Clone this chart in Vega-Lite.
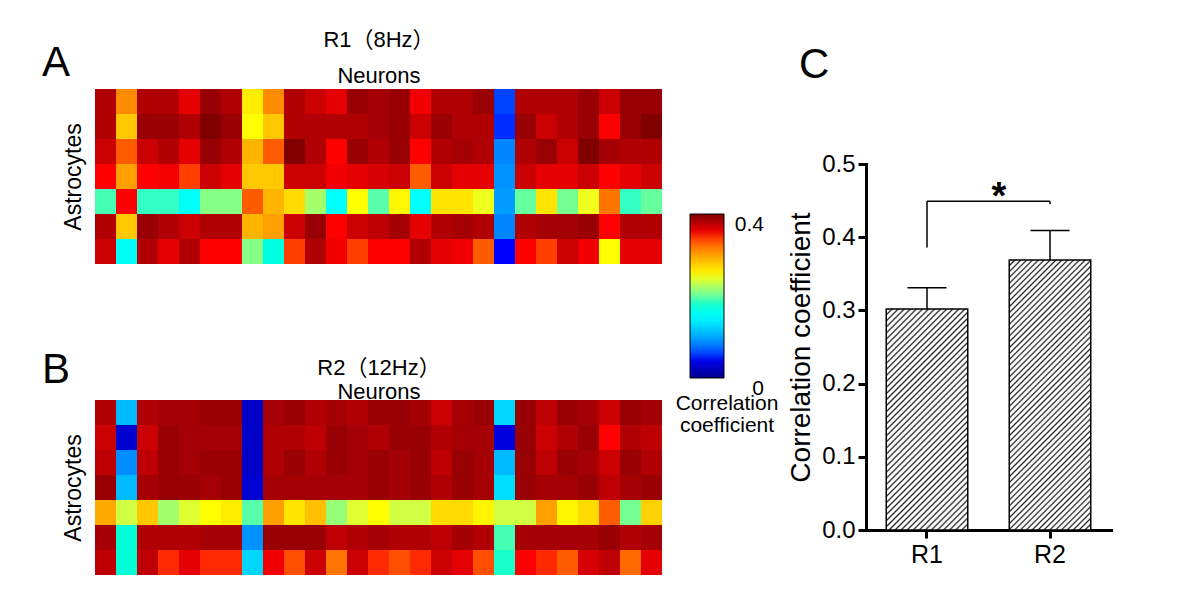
{
  "$schema": "https://vega.github.io/schema/vega-lite/v6.json",
  "background": "white",
  "padding": {"left": 42, "top": 28, "right": 5, "bottom": 5},
  "config": {
    "font": "Liberation Sans, Arial, Noto Sans CJK SC, sans-serif",
    "view": {"stroke": null},
    "axis": {"labelColor": "#000", "titleColor": "#000", "domainColor": "#000", "tickColor": "#000", "grid": false, "titleFontWeight": "normal"},
    "title": {"color": "#000", "fontWeight": "normal"},
    "legend": {"labelColor": "#000", "titleColor": "#000"}
  },
  "spacing": 8,
  "hconcat": [
    {
      "vconcat": [
        {
          "width": 567,
          "height": 175,
          "title": {"text": "A", "anchor": "start", "frame": "group", "align": "left", "baseline": "alphabetic", "fontSize": 42, "offset": 0, "dx": -53, "dy": 90},
          "data": {"values": [
            {"r": 0, "c": [0,1,2,3,4,5,6,7,8,9,10,11,12,13,14,15,16,17,18,19,20,21,22,23,24,25,26], "v": [0.38,0.31,0.38,0.38,0.36,0.39,0.38,0.26,0.31,0.38,0.37,0.36,0.39,0.385,0.39,0.355,0.38,0.38,0.39,0.06,0.38,0.38,0.38,0.39,0.37,0.39,0.39]},
            {"r": 1, "c": [0,1,2,3,4,5,6,7,8,9,10,11,12,13,14,15,16,17,18,19,20,21,22,23,24,25,26], "v": [0.38,0.28,0.39,0.39,0.38,0.4,0.39,0.25,0.28,0.38,0.38,0.38,0.38,0.385,0.39,0.37,0.39,0.38,0.38,0.055,0.39,0.37,0.38,0.39,0.35,0.39,0.4]},
            {"r": 2, "c": [0,1,2,3,4,5,6,7,8,9,10,11,12,13,14,15,16,17,18,19,20,21,22,23,24,25,26], "v": [0.37,0.33,0.37,0.38,0.36,0.39,0.38,0.29,0.33,0.4,0.38,0.35,0.39,0.38,0.39,0.35,0.38,0.385,0.38,0.085,0.38,0.39,0.37,0.4,0.385,0.38,0.38]},
            {"r": 3, "c": [0,1,2,3,4,5,6,7,8,9,10,11,12,13,14,15,16,17,18,19,20,21,22,23,24,25,26], "v": [0.35,0.3,0.35,0.355,0.34,0.37,0.36,0.28,0.28,0.37,0.37,0.355,0.36,0.365,0.37,0.33,0.37,0.36,0.36,0.09,0.37,0.36,0.36,0.37,0.35,0.36,0.37]},
            {"r": 4, "c": [0,1,2,3,4,5,6,7,8,9,10,11,12,13,14,15,16,17,18,19,20,21,22,23,24,25,26], "v": [0.19,0.35,0.185,0.185,0.155,0.21,0.21,0.33,0.29,0.27,0.22,0.15,0.25,0.195,0.255,0.15,0.265,0.265,0.245,0.095,0.2,0.265,0.205,0.245,0.32,0.185,0.2]},
            {"r": 5, "c": [0,1,2,3,4,5,6,7,8,9,10,11,12,13,14,15,16,17,18,19,20,21,22,23,24,25,26], "v": [0.38,0.28,0.39,0.38,0.37,0.38,0.38,0.29,0.3,0.37,0.39,0.35,0.37,0.375,0.385,0.36,0.38,0.385,0.38,0.085,0.38,0.385,0.385,0.39,0.35,0.38,0.38]},
            {"r": 6, "c": [0,1,2,3,4,5,6,7,8,9,10,11,12,13,14,15,16,17,18,19,20,21,22,23,24,25,26], "v": [0.37,0.155,0.38,0.36,0.38,0.35,0.35,0.21,0.17,0.34,0.38,0.355,0.34,0.35,0.35,0.38,0.36,0.355,0.33,0.05,0.35,0.34,0.37,0.355,0.25,0.36,0.36]}
          ]},
          "transform": [{"flatten": ["c", "v"]}],
          "mark": {"type": "rect"},
          "encoding": {
            "x": {"field": "c", "type": "ordinal", "scale": {"paddingInner": 0, "paddingOuter": 0},
                  "axis": {"orient": "top", "labels": false, "ticks": false, "domain": false, "title": ["R1（8Hz）", "Neurons"], "titleFontSize": 22, "titleLineHeight": 36, "titlePadding": 2}},
            "y": {"field": "r", "type": "ordinal", "scale": {"paddingInner": 0, "paddingOuter": 0},
                  "axis": {"labels": false, "ticks": false, "domain": false, "title": "Astrocytes", "titleFontSize": 23, "titlePadding": 10}},
            "color": {"field": "v", "type": "quantitative",
                      "scale": {"domain": [0, 0.05, 0.15, 0.25, 0.35, 0.4], "range": ["#00008f", "#0000ff", "#00ffff", "#ffff00", "#ff0000", "#800000"]},
                      "legend": {"orient": "none", "legendX": 581, "legendY": 125, "direction": "vertical", "gradientLength": 164, "gradientThickness": 34,
                                 "gradientStrokeColor": "#000", "gradientStrokeWidth": 1, "values": [0, 0.4], "format": "~g",
                                 "labelFontSize": 21, "labelOffset": 11, "labelBaseline": "top",
                                 "encode": {"labels": {"update": {"baseline": {"value": "top"}, "align": {"value": "right"}, "dx": {"value": 29}}}},
                                 "title": ["Correlation", "coefficient"], "titleOrient": "bottom", "titleFontSize": 21, "titleFontWeight": "normal",
                                 "titleLineHeight": 22, "titleAnchor": "middle", "titleAlign": "center", "titlePadding": -6}}
          }
        },
        {
          "width": 567,
          "height": 175,
          "title": {"text": "B", "anchor": "start", "frame": "group", "align": "left", "baseline": "alphabetic", "fontSize": 42, "offset": 0, "dx": -53, "dy": 69},
          "data": {"values": [
            {"r": 0, "c": [0,1,2,3,4,5,6,7,8,9,10,11,12,13,14,15,16,17,18,19,20,21,22,23,24,25,26], "v": [0.38,0.11,0.38,0.385,0.385,0.39,0.39,0.025,0.385,0.39,0.38,0.385,0.38,0.39,0.39,0.385,0.37,0.385,0.39,0.125,0.39,0.375,0.39,0.385,0.37,0.39,0.385]},
            {"r": 1, "c": [0,1,2,3,4,5,6,7,8,9,10,11,12,13,14,15,16,17,18,19,20,21,22,23,24,25,26], "v": [0.37,0.03,0.37,0.39,0.385,0.385,0.385,0.025,0.38,0.38,0.375,0.39,0.385,0.38,0.39,0.39,0.38,0.385,0.385,0.035,0.39,0.37,0.38,0.39,0.35,0.38,0.375]},
            {"r": 2, "c": [0,1,2,3,4,5,6,7,8,9,10,11,12,13,14,15,16,17,18,19,20,21,22,23,24,25,26], "v": [0.375,0.088,0.375,0.39,0.385,0.39,0.39,0.025,0.38,0.39,0.38,0.39,0.385,0.39,0.385,0.39,0.375,0.39,0.385,0.11,0.39,0.375,0.39,0.385,0.37,0.39,0.38]},
            {"r": 3, "c": [0,1,2,3,4,5,6,7,8,9,10,11,12,13,14,15,16,17,18,19,20,21,22,23,24,25,26], "v": [0.39,0.11,0.385,0.39,0.39,0.385,0.39,0.03,0.385,0.385,0.385,0.385,0.385,0.39,0.385,0.39,0.38,0.39,0.385,0.13,0.39,0.385,0.385,0.39,0.375,0.385,0.39]},
            {"r": 4, "c": [0,1,2,3,4,5,6,7,8,9,10,11,12,13,14,15,16,17,18,19,20,21,22,23,24,25,26], "v": [0.295,0.235,0.28,0.22,0.24,0.25,0.26,0.195,0.3,0.265,0.285,0.215,0.24,0.25,0.235,0.235,0.27,0.27,0.255,0.235,0.235,0.3,0.255,0.27,0.33,0.205,0.275]},
            {"r": 5, "c": [0,1,2,3,4,5,6,7,8,9,10,11,12,13,14,15,16,17,18,19,20,21,22,23,24,25,26], "v": [0.385,0.175,0.38,0.38,0.38,0.385,0.385,0.09,0.39,0.39,0.39,0.375,0.38,0.385,0.38,0.38,0.375,0.385,0.38,0.19,0.385,0.385,0.385,0.385,0.39,0.38,0.385]},
            {"r": 6, "c": [0,1,2,3,4,5,6,7,8,9,10,11,12,13,14,15,16,17,18,19,20,21,22,23,24,25,26], "v": [0.375,0.175,0.375,0.345,0.36,0.345,0.345,0.125,0.355,0.335,0.37,0.32,0.37,0.345,0.335,0.345,0.37,0.36,0.335,0.18,0.35,0.345,0.33,0.365,0.375,0.325,0.36]}
          ]},
          "transform": [{"flatten": ["c", "v"]}],
          "mark": {"type": "rect"},
          "encoding": {
            "x": {"field": "c", "type": "ordinal", "scale": {"paddingInner": 0, "paddingOuter": 0},
                  "axis": {"orient": "top", "labels": false, "ticks": false, "domain": false, "title": ["R2（12Hz）", "Neurons"], "titleFontSize": 22, "titleLineHeight": 24, "titlePadding": -3}},
            "y": {"field": "r", "type": "ordinal", "scale": {"paddingInner": 0, "paddingOuter": 0},
                  "axis": {"labels": false, "ticks": false, "domain": false, "title": "Astrocytes", "titleFontSize": 23, "titlePadding": 10}},
            "color": {"field": "v", "type": "quantitative",
                      "scale": {"domain": [0, 0.05, 0.15, 0.25, 0.35, 0.4], "range": ["#00008f", "#0000ff", "#00ffff", "#ffff00", "#ff0000", "#800000"]},
                      "legend": null}
          }
        }
      ],
      "spacing": 136,
      "bounds": "flush",
      "resolve": {"scale": {"color": "independent"}, "legend": {"color": "independent"}}
    },
    {
      "width": 245,
      "height": 441,
      "title": {"text": "C", "anchor": "start", "frame": "group", "align": "left", "fontSize": 42, "offset": 2, "dx": -67},
      "data": {"values": [
        {"group": "R1", "mean": 0.302, "upper": 0.331},
        {"group": "R2", "mean": 0.369, "upper": 0.409}
      ]},
      "layer": [
        {
          "transform": [{"filter": "datum.group === 'R1'"}],
          "mark": {"type": "bar", "stroke": "#000", "strokeWidth": 1.5,
            "fill": {"gradient": "linear", "x1": 0, "y1": 0, "x2": 0.4441, "y2": 1.2049, "stops": [
              {"offset":0,"color":"#222"},{"offset":0.006,"color":"#fff"},{"offset":0.014,"color":"#fff"},
              {"offset":0.02,"color":"#222"},{"offset":0.026,"color":"#fff"},{"offset":0.034,"color":"#fff"},
              {"offset":0.04,"color":"#222"},{"offset":0.046,"color":"#fff"},{"offset":0.054,"color":"#fff"},
              {"offset":0.06,"color":"#222"},{"offset":0.066,"color":"#fff"},{"offset":0.074,"color":"#fff"},
              {"offset":0.08,"color":"#222"},{"offset":0.086,"color":"#fff"},{"offset":0.094,"color":"#fff"},
              {"offset":0.1,"color":"#222"},{"offset":0.106,"color":"#fff"},{"offset":0.114,"color":"#fff"},
              {"offset":0.12,"color":"#222"},{"offset":0.126,"color":"#fff"},{"offset":0.134,"color":"#fff"},
              {"offset":0.14,"color":"#222"},{"offset":0.146,"color":"#fff"},{"offset":0.154,"color":"#fff"},
              {"offset":0.16,"color":"#222"},{"offset":0.166,"color":"#fff"},{"offset":0.174,"color":"#fff"},
              {"offset":0.18,"color":"#222"},{"offset":0.186,"color":"#fff"},{"offset":0.194,"color":"#fff"},
              {"offset":0.2,"color":"#222"},{"offset":0.206,"color":"#fff"},{"offset":0.214,"color":"#fff"},
              {"offset":0.22,"color":"#222"},{"offset":0.226,"color":"#fff"},{"offset":0.234,"color":"#fff"},
              {"offset":0.24,"color":"#222"},{"offset":0.246,"color":"#fff"},{"offset":0.254,"color":"#fff"},
              {"offset":0.26,"color":"#222"},{"offset":0.266,"color":"#fff"},{"offset":0.274,"color":"#fff"},
              {"offset":0.28,"color":"#222"},{"offset":0.286,"color":"#fff"},{"offset":0.294,"color":"#fff"},
              {"offset":0.3,"color":"#222"},{"offset":0.306,"color":"#fff"},{"offset":0.314,"color":"#fff"},
              {"offset":0.32,"color":"#222"},{"offset":0.326,"color":"#fff"},{"offset":0.334,"color":"#fff"},
              {"offset":0.34,"color":"#222"},{"offset":0.346,"color":"#fff"},{"offset":0.354,"color":"#fff"},
              {"offset":0.36,"color":"#222"},{"offset":0.366,"color":"#fff"},{"offset":0.374,"color":"#fff"},
              {"offset":0.38,"color":"#222"},{"offset":0.386,"color":"#fff"},{"offset":0.394,"color":"#fff"},
              {"offset":0.4,"color":"#222"},{"offset":0.406,"color":"#fff"},{"offset":0.414,"color":"#fff"},
              {"offset":0.42,"color":"#222"},{"offset":0.426,"color":"#fff"},{"offset":0.434,"color":"#fff"},
              {"offset":0.44,"color":"#222"},{"offset":0.446,"color":"#fff"},{"offset":0.454,"color":"#fff"},
              {"offset":0.46,"color":"#222"},{"offset":0.466,"color":"#fff"},{"offset":0.474,"color":"#fff"},
              {"offset":0.48,"color":"#222"},{"offset":0.486,"color":"#fff"},{"offset":0.494,"color":"#fff"},
              {"offset":0.5,"color":"#222"},{"offset":0.506,"color":"#fff"},{"offset":0.514,"color":"#fff"},
              {"offset":0.52,"color":"#222"},{"offset":0.526,"color":"#fff"},{"offset":0.534,"color":"#fff"},
              {"offset":0.54,"color":"#222"},{"offset":0.546,"color":"#fff"},{"offset":0.554,"color":"#fff"},
              {"offset":0.56,"color":"#222"},{"offset":0.566,"color":"#fff"},{"offset":0.574,"color":"#fff"},
              {"offset":0.58,"color":"#222"},{"offset":0.586,"color":"#fff"},{"offset":0.594,"color":"#fff"},
              {"offset":0.6,"color":"#222"},{"offset":0.606,"color":"#fff"},{"offset":0.614,"color":"#fff"},
              {"offset":0.62,"color":"#222"},{"offset":0.626,"color":"#fff"},{"offset":0.634,"color":"#fff"},
              {"offset":0.64,"color":"#222"},{"offset":0.646,"color":"#fff"},{"offset":0.654,"color":"#fff"},
              {"offset":0.66,"color":"#222"},{"offset":0.666,"color":"#fff"},{"offset":0.674,"color":"#fff"},
              {"offset":0.68,"color":"#222"},{"offset":0.686,"color":"#fff"},{"offset":0.694,"color":"#fff"},
              {"offset":0.7,"color":"#222"},{"offset":0.706,"color":"#fff"},{"offset":0.714,"color":"#fff"},
              {"offset":0.72,"color":"#222"},{"offset":0.726,"color":"#fff"},{"offset":0.734,"color":"#fff"},
              {"offset":0.74,"color":"#222"},{"offset":0.746,"color":"#fff"},{"offset":0.754,"color":"#fff"},
              {"offset":0.76,"color":"#222"},{"offset":0.766,"color":"#fff"},{"offset":0.774,"color":"#fff"},
              {"offset":0.78,"color":"#222"},{"offset":0.786,"color":"#fff"},{"offset":0.794,"color":"#fff"},
              {"offset":0.8,"color":"#222"},{"offset":0.806,"color":"#fff"},{"offset":0.814,"color":"#fff"},
              {"offset":0.82,"color":"#222"},{"offset":0.826,"color":"#fff"},{"offset":0.834,"color":"#fff"},
              {"offset":0.84,"color":"#222"},{"offset":0.846,"color":"#fff"},{"offset":0.854,"color":"#fff"},
              {"offset":0.86,"color":"#222"},{"offset":0.866,"color":"#fff"},{"offset":0.874,"color":"#fff"},
              {"offset":0.88,"color":"#222"},{"offset":0.886,"color":"#fff"},{"offset":0.894,"color":"#fff"},
              {"offset":0.9,"color":"#222"},{"offset":0.906,"color":"#fff"},{"offset":0.914,"color":"#fff"},
              {"offset":0.92,"color":"#222"},{"offset":0.926,"color":"#fff"},{"offset":0.934,"color":"#fff"},
              {"offset":0.94,"color":"#222"},{"offset":0.946,"color":"#fff"},{"offset":0.954,"color":"#fff"},
              {"offset":0.96,"color":"#222"},{"offset":0.966,"color":"#fff"},{"offset":0.974,"color":"#fff"},
              {"offset":0.98,"color":"#222"},{"offset":0.986,"color":"#fff"},{"offset":0.994,"color":"#fff"},
              {"offset":1,"color":"#222"}
            ]}},
          "encoding": {
            "x": {"field": "group", "type": "nominal", "scale": {"domain": ["R1", "R2"], "paddingInner": 0.3374, "paddingOuter": 0.1646},
                  "axis": {"title": null, "labelAngle": 0, "labelFontSize": 25, "labelPadding": 4, "tickSize": 8, "tickWidth": 3, "domainWidth": 3, "domainCap": "square"}},
            "y": {"field": "mean", "type": "quantitative", "scale": {"domain": [0, 0.5], "nice": false, "rangeMax": 75},
                  "axis": {"title": "Correlation coefficient", "titleFontSize": 28, "titlePadding": 6, "labelFontSize": 24, "labelPadding": 3,
                           "values": [0, 0.1, 0.2, 0.3, 0.4, 0.5], "format": ".1f", "tickSize": 8, "tickWidth": 3, "domainWidth": 3, "domainCap": "square"}}
          }
        },
        {
          "transform": [{"filter": "datum.group === 'R2'"}],
          "mark": {"type": "bar", "stroke": "#000", "strokeWidth": 1.5,
            "fill": {"gradient": "linear", "x1": 0, "y1": 0, "x2": 0.36, "y2": 1.1931, "stops": [
              {"offset":0,"color":"#222"},{"offset":0.005,"color":"#fff"},{"offset":0.0117,"color":"#fff"},
              {"offset":0.0167,"color":"#222"},{"offset":0.0217,"color":"#fff"},{"offset":0.0283,"color":"#fff"},
              {"offset":0.0333,"color":"#222"},{"offset":0.0383,"color":"#fff"},{"offset":0.045,"color":"#fff"},
              {"offset":0.05,"color":"#222"},{"offset":0.055,"color":"#fff"},{"offset":0.0617,"color":"#fff"},
              {"offset":0.0667,"color":"#222"},{"offset":0.0717,"color":"#fff"},{"offset":0.0783,"color":"#fff"},
              {"offset":0.0833,"color":"#222"},{"offset":0.0883,"color":"#fff"},{"offset":0.095,"color":"#fff"},
              {"offset":0.1,"color":"#222"},{"offset":0.105,"color":"#fff"},{"offset":0.1117,"color":"#fff"},
              {"offset":0.1167,"color":"#222"},{"offset":0.1217,"color":"#fff"},{"offset":0.1283,"color":"#fff"},
              {"offset":0.1333,"color":"#222"},{"offset":0.1383,"color":"#fff"},{"offset":0.145,"color":"#fff"},
              {"offset":0.15,"color":"#222"},{"offset":0.155,"color":"#fff"},{"offset":0.1617,"color":"#fff"},
              {"offset":0.1667,"color":"#222"},{"offset":0.1717,"color":"#fff"},{"offset":0.1783,"color":"#fff"},
              {"offset":0.1833,"color":"#222"},{"offset":0.1883,"color":"#fff"},{"offset":0.195,"color":"#fff"},
              {"offset":0.2,"color":"#222"},{"offset":0.205,"color":"#fff"},{"offset":0.2117,"color":"#fff"},
              {"offset":0.2167,"color":"#222"},{"offset":0.2217,"color":"#fff"},{"offset":0.2283,"color":"#fff"},
              {"offset":0.2333,"color":"#222"},{"offset":0.2383,"color":"#fff"},{"offset":0.245,"color":"#fff"},
              {"offset":0.25,"color":"#222"},{"offset":0.255,"color":"#fff"},{"offset":0.2617,"color":"#fff"},
              {"offset":0.2667,"color":"#222"},{"offset":0.2717,"color":"#fff"},{"offset":0.2783,"color":"#fff"},
              {"offset":0.2833,"color":"#222"},{"offset":0.2883,"color":"#fff"},{"offset":0.295,"color":"#fff"},
              {"offset":0.3,"color":"#222"},{"offset":0.305,"color":"#fff"},{"offset":0.3117,"color":"#fff"},
              {"offset":0.3167,"color":"#222"},{"offset":0.3217,"color":"#fff"},{"offset":0.3283,"color":"#fff"},
              {"offset":0.3333,"color":"#222"},{"offset":0.3383,"color":"#fff"},{"offset":0.345,"color":"#fff"},
              {"offset":0.35,"color":"#222"},{"offset":0.355,"color":"#fff"},{"offset":0.3617,"color":"#fff"},
              {"offset":0.3667,"color":"#222"},{"offset":0.3717,"color":"#fff"},{"offset":0.3783,"color":"#fff"},
              {"offset":0.3833,"color":"#222"},{"offset":0.3883,"color":"#fff"},{"offset":0.395,"color":"#fff"},
              {"offset":0.4,"color":"#222"},{"offset":0.405,"color":"#fff"},{"offset":0.4117,"color":"#fff"},
              {"offset":0.4167,"color":"#222"},{"offset":0.4217,"color":"#fff"},{"offset":0.4283,"color":"#fff"},
              {"offset":0.4333,"color":"#222"},{"offset":0.4383,"color":"#fff"},{"offset":0.445,"color":"#fff"},
              {"offset":0.45,"color":"#222"},{"offset":0.455,"color":"#fff"},{"offset":0.4617,"color":"#fff"},
              {"offset":0.4667,"color":"#222"},{"offset":0.4717,"color":"#fff"},{"offset":0.4783,"color":"#fff"},
              {"offset":0.4833,"color":"#222"},{"offset":0.4883,"color":"#fff"},{"offset":0.495,"color":"#fff"},
              {"offset":0.5,"color":"#222"},{"offset":0.505,"color":"#fff"},{"offset":0.5117,"color":"#fff"},
              {"offset":0.5167,"color":"#222"},{"offset":0.5217,"color":"#fff"},{"offset":0.5283,"color":"#fff"},
              {"offset":0.5333,"color":"#222"},{"offset":0.5383,"color":"#fff"},{"offset":0.545,"color":"#fff"},
              {"offset":0.55,"color":"#222"},{"offset":0.555,"color":"#fff"},{"offset":0.5617,"color":"#fff"},
              {"offset":0.5667,"color":"#222"},{"offset":0.5717,"color":"#fff"},{"offset":0.5783,"color":"#fff"},
              {"offset":0.5833,"color":"#222"},{"offset":0.5883,"color":"#fff"},{"offset":0.595,"color":"#fff"},
              {"offset":0.6,"color":"#222"},{"offset":0.605,"color":"#fff"},{"offset":0.6117,"color":"#fff"},
              {"offset":0.6167,"color":"#222"},{"offset":0.6217,"color":"#fff"},{"offset":0.6283,"color":"#fff"},
              {"offset":0.6333,"color":"#222"},{"offset":0.6383,"color":"#fff"},{"offset":0.645,"color":"#fff"},
              {"offset":0.65,"color":"#222"},{"offset":0.655,"color":"#fff"},{"offset":0.6617,"color":"#fff"},
              {"offset":0.6667,"color":"#222"},{"offset":0.6717,"color":"#fff"},{"offset":0.6783,"color":"#fff"},
              {"offset":0.6833,"color":"#222"},{"offset":0.6883,"color":"#fff"},{"offset":0.695,"color":"#fff"},
              {"offset":0.7,"color":"#222"},{"offset":0.705,"color":"#fff"},{"offset":0.7117,"color":"#fff"},
              {"offset":0.7167,"color":"#222"},{"offset":0.7217,"color":"#fff"},{"offset":0.7283,"color":"#fff"},
              {"offset":0.7333,"color":"#222"},{"offset":0.7383,"color":"#fff"},{"offset":0.745,"color":"#fff"},
              {"offset":0.75,"color":"#222"},{"offset":0.755,"color":"#fff"},{"offset":0.7617,"color":"#fff"},
              {"offset":0.7667,"color":"#222"},{"offset":0.7717,"color":"#fff"},{"offset":0.7783,"color":"#fff"},
              {"offset":0.7833,"color":"#222"},{"offset":0.7883,"color":"#fff"},{"offset":0.795,"color":"#fff"},
              {"offset":0.8,"color":"#222"},{"offset":0.805,"color":"#fff"},{"offset":0.8117,"color":"#fff"},
              {"offset":0.8167,"color":"#222"},{"offset":0.8217,"color":"#fff"},{"offset":0.8283,"color":"#fff"},
              {"offset":0.8333,"color":"#222"},{"offset":0.8383,"color":"#fff"},{"offset":0.845,"color":"#fff"},
              {"offset":0.85,"color":"#222"},{"offset":0.855,"color":"#fff"},{"offset":0.8617,"color":"#fff"},
              {"offset":0.8667,"color":"#222"},{"offset":0.8717,"color":"#fff"},{"offset":0.8783,"color":"#fff"},
              {"offset":0.8833,"color":"#222"},{"offset":0.8883,"color":"#fff"},{"offset":0.895,"color":"#fff"},
              {"offset":0.9,"color":"#222"},{"offset":0.905,"color":"#fff"},{"offset":0.9117,"color":"#fff"},
              {"offset":0.9167,"color":"#222"},{"offset":0.9217,"color":"#fff"},{"offset":0.9283,"color":"#fff"},
              {"offset":0.9333,"color":"#222"},{"offset":0.9383,"color":"#fff"},{"offset":0.945,"color":"#fff"},
              {"offset":0.95,"color":"#222"},{"offset":0.955,"color":"#fff"},{"offset":0.9617,"color":"#fff"},
              {"offset":0.9667,"color":"#222"},{"offset":0.9717,"color":"#fff"},{"offset":0.9783,"color":"#fff"},
              {"offset":0.9833,"color":"#222"},{"offset":0.9883,"color":"#fff"},{"offset":0.995,"color":"#fff"},
              {"offset":1,"color":"#222"}
            ]}},
          "encoding": {
            "x": {"field": "group", "type": "nominal"},
            "y": {"field": "mean", "type": "quantitative"}
          }
        },
        {
          "mark": {"type": "rule", "stroke": "#000", "strokeWidth": 1.5},
          "encoding": {
            "x": {"field": "group", "type": "nominal"},
            "y": {"field": "mean", "type": "quantitative"},
            "y2": {"field": "upper"}
          }
        },
        {
          "mark": {"type": "tick", "orient": "horizontal", "size": 39, "thickness": 1.5, "color": "#000", "opacity": 1},
          "encoding": {
            "x": {"field": "group", "type": "nominal"},
            "y": {"field": "upper", "type": "quantitative"}
          }
        },
        {
          "data": {"values": [
            {"from": "R1", "to": "R2", "low": 0.449, "high": 0.449},
            {"from": "R1", "to": "R1", "low": 0.386, "high": 0.449},
            {"from": "R2", "to": "R2", "low": 0.445, "high": 0.449}
          ]},
          "mark": {"type": "rule", "stroke": "#000", "strokeWidth": 1.5},
          "encoding": {
            "x": {"field": "from", "type": "nominal"},
            "x2": {"field": "to"},
            "y": {"field": "low", "type": "quantitative"},
            "y2": {"field": "high"}
          }
        },
        {
          "data": {"values": [{"label": "*", "group": "R1", "level": 0.438}]},
          "mark": {"type": "text", "fontSize": 38, "fontWeight": "bold", "dx": 72, "align": "center", "baseline": "alphabetic", "color": "#000"},
          "encoding": {
            "x": {"field": "group", "type": "nominal"},
            "y": {"field": "level", "type": "quantitative"},
            "text": {"field": "label"}
          }
        }
      ]
    }
  ]
}
